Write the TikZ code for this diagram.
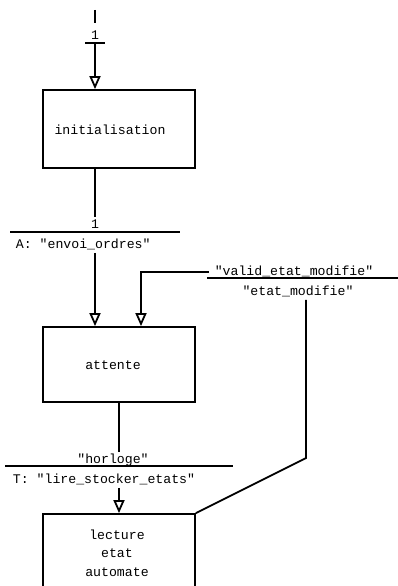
\documentclass[tikz,border=0pt]{standalone}
\usepackage{fontspec}
\newfontfamily\grafmono{Liberation Mono}
\usetikzlibrary{arrows.meta}

\begin{document}
\begin{tikzpicture}[x=1pt,y=-1pt,line width=1.8pt,
    font=\grafmono\fontsize{13.2}{18.5}\selectfont,
    etape/.style={draw,minimum width=152pt,inner sep=0pt},
    barre/.style={line width=1.8pt},
    texte/.style={inner xsep=5pt,inner ysep=1pt,text height=9pt,text depth=3pt,anchor=base},
    fleche/.style={-{Triangle[open,length=13pt,width=11pt]}}]
    \useasboundingbox (0,0) rectangle (397,586);

    % Etapes
    \node[etape,minimum height=78pt] (init) at (119,129) {};
    \node (initnom) at (110,130) {initialisation};
    \node[etape,minimum height=75pt] (attente) at (119,364.5) {};
    \node (attentenom) at (113,365) {attente};
    \node[etape,minimum height=78pt] (lecture) at (119,553) {};
    \node[align=center] (lecturenom) at (117,553) {lecture\\etat\\automate};

    % Transitions
    \coordinate (t0) at (95,43);
    \coordinate (t1) at (95,232);
    \coordinate (t2) at (306,278);
    \coordinate (t3) at (119,466);
    \draw[barre] (t0) +(-10,0) -- +(10,0);
    \draw[barre] (t1) +(-85,0) -- +(85,0);
    \draw[barre] (t2) +(-99,0) -- +(99,0);
    \draw[barre] (t3) +(-114,0) -- +(114,0);

    \node[texte] (r0) at (95,40) {1};
    \node[texte] (r1) at (95,228) {1};
    \node[texte,anchor=base west] (a1) at (10,248) {A: "envoi\_ordres"};
    \node[texte] (r2) at (294,275) {"valid\_etat\_modifie"};
    \node[texte] (e2) at (298,295) {"etat\_modifie"};
    \node[texte] (r3) at (113,463) {"horloge"};
    \node[texte,anchor=base west] (a3) at (7,483) {T: "lire\_stocker\_etats"};

    % Liaisons
    \coordinate (entree) at (95,10);
    \coordinate (coude) at (306,458);
    \coordinate (retour) at (141,271);
    \draw (entree) -- (r0.north) [shorten >=6pt];
    \draw[fleche] (t0) -- (init.north -| t0);
    \draw (init.south -| t1) -- (r1.north);
    \draw[fleche] (a1.south -| t1) -- (attente.north -| t1);
    \draw[fleche] (r2.west) -| (attente.north -| retour);
    \draw (e2.south -| t2) -- (coude) -- (lecture.north east);
    \draw (attente.south) -- (r3.north -| t3);
    \draw[fleche] (a3.south -| t3) -- (lecture.north);
\end{tikzpicture}
\end{document}
